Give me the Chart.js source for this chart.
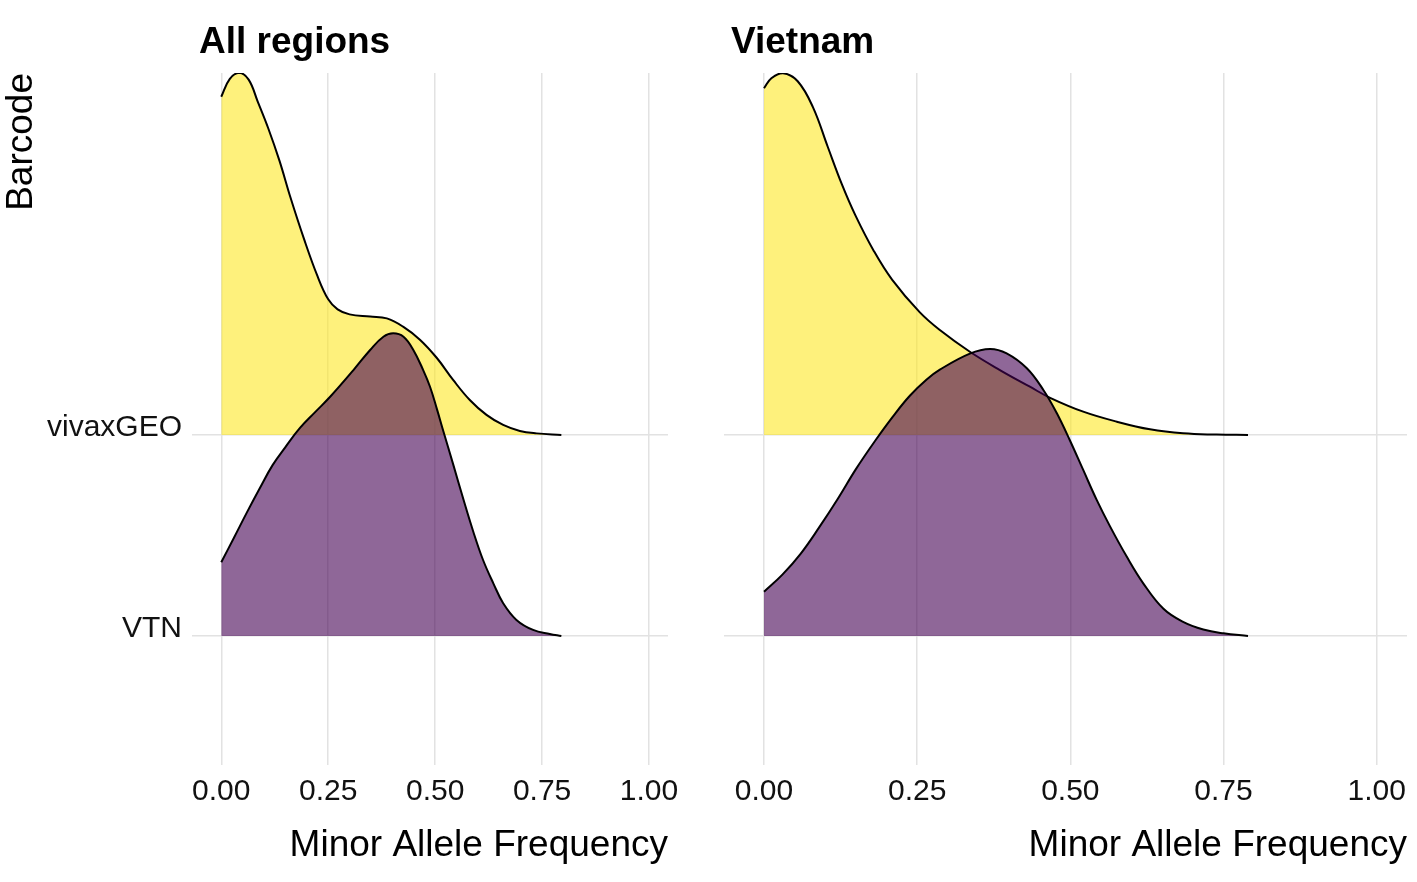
<!DOCTYPE html>
<html>
<head>
<meta charset="utf-8">
<script src="https://cdn.jsdelivr.net/npm/chart.js@4.4.1/dist/chart.umd.min.js"></script>
<style>
  html, body { margin: 0; padding: 0; background: #ffffff; }
  #wrap { position: relative; width: 1417px; height: 882px; overflow: hidden; }
  canvas { position: absolute; top: 0; }
  #cLeft { left: 0; }
  #cRight { left: 700px; }
</style>
</head>
<body>
<div id="wrap">
  <canvas id="cLeft" width="700" height="882"></canvas>
  <canvas id="cRight" width="717" height="882"></canvas>
</div>
<script>
// ---- data ----
const panelTitles = ['All regions', 'Vietnam'];
const categories = ['VTN', 'vivaxGEO'];          // y positions 1 and 2
const xTicks = [0, 0.25, 0.5, 0.75, 1];
const xAxisTitle = 'Minor Allele Frequency';
const yAxisTitle = 'Barcode';

// All regions, vivaxGEO (density height above its baseline)
const allGeoX = [0, 0.02, 0.042, 0.064, 0.085, 0.11, 0.136, 0.162, 0.193, 0.225, 0.25, 0.272, 0.3, 0.348, 0.387, 0.425, 0.465, 0.504, 0.542, 0.581, 0.62, 0.659, 0.698, 0.737, 0.795];
const allGeoH = [1.683, 1.772, 1.802, 1.768, 1.66, 1.525, 1.365, 1.18, 0.978, 0.79, 0.675, 0.625, 0.6, 0.589, 0.58, 0.539, 0.473, 0.383, 0.274, 0.174, 0.10, 0.05, 0.02, 0.008, 0];

// All regions, VTN
const allVtnX = [0, 0.03, 0.06, 0.09, 0.12, 0.15, 0.184, 0.22, 0.2545, 0.309, 0.348, 0.379, 0.402, 0.426, 0.449, 0.472, 0.488, 0.504, 0.519, 0.542, 0.566, 0.589, 0.612, 0.636, 0.659, 0.69, 0.729, 0.768, 0.795];
const allVtnH = [0.367, 0.49, 0.615, 0.735, 0.85, 0.94, 1.035, 1.115, 1.19, 1.323, 1.423, 1.489, 1.506, 1.489, 1.423, 1.323, 1.24, 1.13, 1.02, 0.855, 0.68, 0.52, 0.378, 0.262, 0.163, 0.08, 0.03, 0.01, 0];

// Vietnam, vivaxGEO
const vnGeoX = [0, 0.012, 0.031, 0.055, 0.08, 0.104, 0.127, 0.149, 0.179, 0.209, 0.254, 0.287, 0.336, 0.385, 0.434, 0.467, 0.521, 0.576, 0.63, 0.684, 0.739, 0.79];
const vnGeoH = [1.725, 1.775, 1.80, 1.76, 1.63, 1.434, 1.248, 1.094, 0.917, 0.773, 0.611, 0.522, 0.414, 0.323, 0.24, 0.185, 0.116, 0.066, 0.028, 0.008, 0.002, 0];

// Vietnam, VTN
const vnVtnX = [0, 0.03, 0.06, 0.09, 0.12, 0.15, 0.18, 0.21, 0.238, 0.265, 0.287, 0.336, 0.369, 0.396, 0.429, 0.456, 0.478, 0.499, 0.521, 0.543, 0.565, 0.592, 0.619, 0.652, 0.684, 0.717, 0.75, 0.79];
const vnVtnH = [0.22, 0.305, 0.41, 0.54, 0.68, 0.83, 0.965, 1.09, 1.195, 1.275, 1.325, 1.405, 1.428, 1.406, 1.332, 1.224, 1.108, 0.975, 0.826, 0.677, 0.544, 0.395, 0.262, 0.135, 0.07, 0.032, 0.013, 0];

// ---- styling ----
const FONT = "'Liberation Sans', Arial, Helvetica, sans-serif";
Chart.defaults.font.family = FONT;
Chart.defaults.color = '#111111';
const GRID = '#e2e2e2';
const YELLOW = 'rgba(253,231,37,0.6)';
const PURPLE = 'rgba(68,1,84,0.6)';

function toPoints(xs, hs, base) {
  return xs.map((x, i) => ({ x: x, y: base + hs[i] }));
}

const panelTitlePlugin = {
  id: 'panelTitle',
  afterDraw(chart, args, opts) {
    const ctx = chart.ctx;
    ctx.save();
    ctx.font = 'bold 37px ' + FONT;
    ctx.fillStyle = '#000';
    ctx.textAlign = 'left';
    ctx.textBaseline = 'alphabetic';
    ctx.fillText(opts.text, chart.chartArea.left + 7, 53);
    ctx.restore();
  }
};

function makeChart(canvasId, title, geoX, geoH, vtnX, vtnH, cfg) {
  const geoBase = categories.indexOf('vivaxGEO') + 1;
  const vtnBase = categories.indexOf('VTN') + 1;
  return new Chart(document.getElementById(canvasId), {
    type: 'line',
    data: {
      datasets: [
        {
          label: 'vivaxGEO',
          data: toPoints(geoX, geoH, geoBase),
          borderColor: '#000',
          borderWidth: 2,
          backgroundColor: YELLOW,
          fill: { value: geoBase },
          pointRadius: 0,
          tension: 0.4,
          order: 2
        },
        {
          label: 'VTN',
          data: toPoints(vtnX, vtnH, vtnBase),
          borderColor: '#000',
          borderWidth: 2,
          backgroundColor: PURPLE,
          fill: { value: vtnBase },
          pointRadius: 0,
          tension: 0.4,
          order: 1
        }
      ]
    },
    options: {
      responsive: false,
      animation: false,
      events: [],
      layout: { padding: { top: 73, left: cfg.padLeft, right: cfg.padRight, bottom: 0 } },
      plugins: {
        legend: { display: false },
        tooltip: { enabled: false },
        panelTitle: { text: title }
      },
      scales: {
        x: {
          type: 'linear',
          min: cfg.xMin,
          max: cfg.xMax,
          afterBuildTicks: (s) => { s.ticks = xTicks.map(v => ({ value: v })); },
          afterFit: (s) => { s.height = 117; },
          ticks: {
            callback: (v) => Number(v).toFixed(2),
            font: { size: 30 },
            color: '#111',
            padding: 9,
            maxRotation: 0,
            autoSkip: false
          },
          grid: { color: GRID, lineWidth: 1.5, drawTicks: false },
          border: { display: false },
          title: {
            display: true,
            text: xAxisTitle,
            align: 'end',
            color: '#000',
            font: { size: 37 },
            padding: { top: 0, bottom: 14 }
          }
        },
        y: {
          type: 'linear',
          min: 0.358,
          max: 3.801,
          afterBuildTicks: (s) => { s.ticks = categories.map((c, i) => ({ value: i + 1 })); },
          afterFit: (s) => { s.width = cfg.yWidth; },
          ticks: {
            display: cfg.showY,
            callback: (v) => categories[Math.round(v) - 1],
            font: { size: 30 },
            color: '#111',
            padding: 10,
            labelOffset: -7,
            autoSkip: false
          },
          grid: { color: GRID, lineWidth: 1.5, drawTicks: false },
          border: { display: false },
          title: {
            display: cfg.showY,
            text: yAxisTitle,
            align: 'end',
            color: '#000',
            font: { size: 37 },
            padding: { top: 0, bottom: 0 }
          }
        }
      }
    },
    plugins: [panelTitlePlugin]
  });
}

makeChart('cLeft', panelTitles[0], allGeoX, allGeoH, allVtnX, allVtnH,
  { padLeft: 0, padRight: 32, yWidth: 192, showY: true, xMin: -0.0684, xMax: 1.0443 });
makeChart('cRight', panelTitles[1], vnGeoX, vnGeoH, vnVtnX, vnVtnH,
  { padLeft: 24, padRight: 10, yWidth: 0, showY: false, xMin: -0.0653, xMax: 1.0495 });
</script>
</body>
</html>
